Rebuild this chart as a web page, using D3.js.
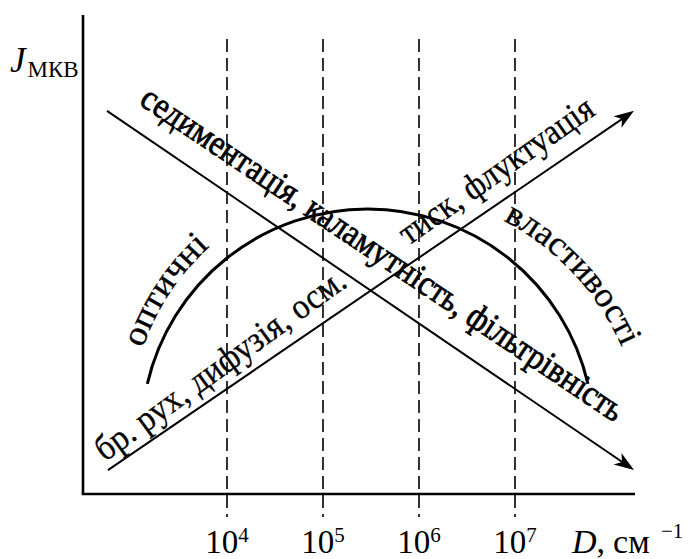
<!DOCTYPE html>
<html>
<head>
<meta charset="utf-8">
<script src="https://cdn.jsdelivr.net/npm/d3@7"></script>
<style>
body { margin: 0; background: #fff; }
</style>
</head>
<body>
<div id="chart"></div>
<script>
// decades of D, cm^-1 (dashed lines)
var decades = [1e4, 1e5, 1e6, 1e7];
var decadeExp = ["4", "5", "6", "7"];
// arrows as [lg D, J] pairs: start, end
var riseLine = [[2.76, 5], [8.24, 80]];
var fallLine = [[2.75, 80], [8.24, 5]];
// arc of optical properties: left end, top, right end
var arcPoints = [[3.17, 23], [5.46, 59.5], [7.76, 23]];
var riseLabels = ["бр. рух, дифузія, осм.", "тиск, флуктуація"];
var fallLabels = ["седиментація, каламутність, фільтрівність"];
var arcLabels = ["оптичні", "властивості"];

var width = 691, height = 559;
var serif = "Liberation Serif";

var x = d3.scaleLog().domain([Math.pow(10, 2.5), Math.pow(10, 8.25)]).range([83, 635]);
var y = d3.scaleLinear().domain([0, 100]).range([494, 15]);
function px(p) { return [x(Math.pow(10, p[0])), y(p[1])]; }

var svg = d3.select("#chart").append("svg")
	.attr("width", width).attr("height", height);

var defs = svg.append("defs");
defs.append("marker").attr("id", "arr")
	.attr("markerUnits", "userSpaceOnUse")
	.attr("viewBox", "-15 -15 30 30")
	.attr("markerWidth", 30).attr("markerHeight", 30)
	.attr("refX", 0).attr("refY", 0)
	.attr("orient", "auto")
	.append("path").attr("d", "M12,0L-8,-7L-2.5,0L-8,7Z").attr("fill", "#000");

// dashed decade lines
svg.selectAll("line.dec").data(decades).enter().append("line")
	.attr("class", "dec")
	.attr("x1", function(d) { return x(d); })
	.attr("x2", function(d) { return x(d); })
	.attr("y1", y(95)).attr("y2", y(-4.8))
	.attr("stroke", "#000").attr("stroke-width", 1.6)
	.attr("stroke-dasharray", "13,6");

// axes
svg.append("line")
	.attr("x1", x.range()[0]).attr("x2", x.range()[0])
	.attr("y1", y(0)).attr("y2", y(100))
	.attr("stroke", "#000").attr("stroke-width", 2.6);
svg.append("line")
	.attr("x1", x.range()[0] - 1.3).attr("x2", x.range()[1])
	.attr("y1", y(0)).attr("y2", y(0))
	.attr("stroke", "#000").attr("stroke-width", 2.6);

// frame along a line: start point, unit direction, "up" normal for text
function frame(line) {
	var a = px(line[0]), b = px(line[1]);
	var dx = b[0] - a[0], dy = b[1] - a[1], len = Math.sqrt(dx * dx + dy * dy);
	var u = [dx / len, dy / len];
	return { a: a, b: b, u: u, n: [u[1], -u[0]], len: len };
}

function drawArrow(line) {
	var f = frame(line);
	svg.append("line")
		.attr("x1", f.a[0]).attr("y1", f.a[1])
		.attr("x2", f.b[0] - 12 * f.u[0]).attr("y2", f.b[1] - 12 * f.u[1])
		.attr("stroke", "#000").attr("stroke-width", 2)
		.attr("marker-end", "url(#arr)");
}
drawArrow(riseLine);
drawArrow(fallLine);

// arc through three points
function circle3(p1, p2, p3) {
	var ax = p1[0], ay = p1[1], bx = p2[0], by = p2[1], cx = p3[0], cy = p3[1];
	var d = 2 * (ax * (by - cy) + bx * (cy - ay) + cx * (ay - by));
	var ux = ((ax * ax + ay * ay) * (by - cy) + (bx * bx + by * by) * (cy - ay) + (cx * cx + cy * cy) * (ay - by)) / d;
	var uy = ((ax * ax + ay * ay) * (cx - bx) + (bx * bx + by * by) * (ax - cx) + (cx * cx + cy * cy) * (bx - ax)) / d;
	return { c: [ux, uy], r: Math.sqrt((ax - ux) * (ax - ux) + (ay - uy) * (ay - uy)) };
}
var ap = arcPoints.map(px);
var circ = circle3(ap[0], ap[1], ap[2]);
svg.append("path")
	.attr("d", "M" + ap[0] + "A" + circ.r + "," + circ.r + " 0 0 1 " + ap[2])
	.attr("fill", "none").attr("stroke", "#000").attr("stroke-width", 3);

// straight labels: [along0, up0, along1, up1] relative to their arrow
function lineLabel(line, txt, s, heavy) {
	var f = frame(line);
	var p0 = [f.a[0] + s[0] * f.u[0] + s[1] * f.n[0], f.a[1] + s[0] * f.u[1] + s[1] * f.n[1]];
	var p1 = [f.a[0] + s[2] * f.u[0] + s[3] * f.n[0], f.a[1] + s[2] * f.u[1] + s[3] * f.n[1]];
	var ang = Math.atan2(p1[1] - p0[1], p1[0] - p0[0]) * 180 / Math.PI;
	var len = Math.sqrt((p1[0] - p0[0]) * (p1[0] - p0[0]) + (p1[1] - p0[1]) * (p1[1] - p0[1]));
	svg.append("text")
		.attr("font-family", serif)
		.attr("transform", "translate(" + p0 + ") rotate(" + ang + ")")
		.attr("textLength", len).attr("lengthAdjust", "spacingAndGlyphs")
		.attr("font-size", 36)
		.attr("stroke", "#000").attr("stroke-width", heavy || 0.3)
		.text(txt);
}
lineLabel(fallLine, fallLabels[0], [21.7, 23.3, 595, 28], 0.8);
lineLabel(riseLine, riseLabels[0], [2, 8, 303, 16.5]);
lineLabel(riseLine, riseLabels[1], [374.5, 15.6, 604.6, 18.4]);

// curved labels round the arc: [theta0, r0, theta1, r1], degrees from vertical
function arcLabel(id, txt, s) {
	var pts = d3.range(13).map(function(i) {
		var t = i / 12;
		var th = (s[0] + (s[2] - s[0]) * t) * Math.PI / 180;
		var r = s[1] + (s[3] - s[1]) * t;
		return [circ.c[0] + r * Math.sin(th), circ.c[1] - r * Math.cos(th)];
	});
	var path = defs.append("path").attr("id", id)
		.attr("d", d3.line().curve(d3.curveCatmullRom)(pts));
	var len = path.node().getTotalLength();
	svg.append("text")
		.attr("font-family", serif)
		.attr("font-size", 35)
		.attr("stroke", "#000").attr("stroke-width", 0.3)
		.append("textPath").attr("href", "#" + id)
		.attr("textLength", len).attr("lengthAdjust", "spacingAndGlyphs")
		.text(txt);
}
arcLabel("optPath", arcLabels[0], [-68.9, 241, -39.9, 246]);
arcLabel("propPath", arcLabels[1], [32.3, 254, 70.9, 269]);

// tick labels 10^n
var ticks = svg.selectAll("text.tick").data(decades).enter().append("text")
	.attr("class", "tick")
	.attr("font-family", serif)
	.attr("x", function(d) { return x(d); })
	.attr("y", 553)
	.attr("text-anchor", "middle")
	.attr("font-size", 33);
ticks.append("tspan").text("10");
ticks.append("tspan").attr("dy", -11).attr("font-size", 21)
	.text(function(d, i) { return decadeExp[i]; });

// axis titles
var xt = svg.append("text").attr("font-family", serif)
	.attr("x", 572).attr("y", 553).attr("font-size", 34);
xt.append("tspan").attr("font-style", "italic").text("D");
xt.append("tspan").text(",");
xt.append("tspan").attr("dx", 8).text("см");
xt.append("tspan").attr("x", 661).attr("dy", -15).attr("font-size", 21).text("−1");

var yt = svg.append("text").attr("font-family", serif)
	.attr("x", 10).attr("y", 72).attr("font-size", 35);
yt.append("tspan").attr("font-style", "italic").text("J");
yt.append("tspan").attr("dx", 2).attr("dy", 5).attr("font-size", 23).text("МКВ");
</script>
</body>
</html>
